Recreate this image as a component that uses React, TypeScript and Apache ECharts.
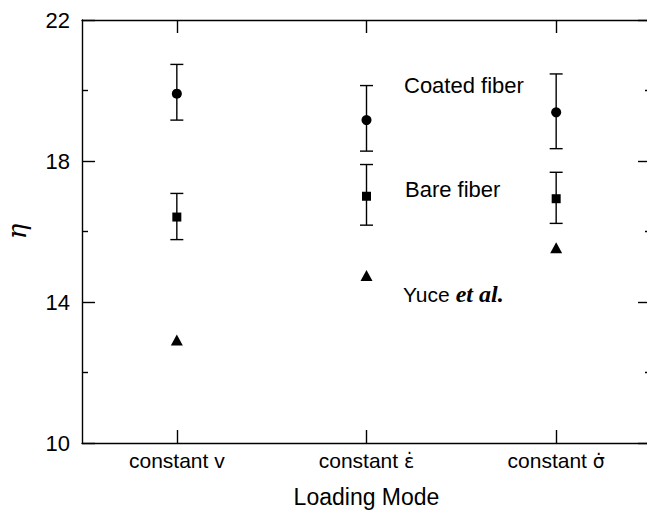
import React, { useEffect, useRef } from "react";
import * as echarts from "echarts";

const categories = ["constant v", "constant \u03b5\u0307", "constant \u03c3\u0307"];
const coatedMean = [19.91, 19.16, 19.38];
const coatedHigh = [20.74, 20.14, 20.47];
const coatedLow = [19.16, 18.28, 18.35];
const bareMean = [16.41, 17.0, 16.93];
const bareHigh = [17.08, 17.9, 17.68];
const bareLow = [15.77, 16.18, 16.23];
const yuceMean = [12.92, 14.75, 15.54];

const FONT = "'Liberation Sans', Arial, sans-serif";

function errorData(low: number[], high: number[]) {
  return categories.map((_, i) => [i, low[i], high[i]]);
}

function renderError(params: any, api: any) {
  const x = api.value(0);
  const lo = api.coord([x, api.value(1)]);
  const hi = api.coord([x, api.value(2)]);
  const hw = 6.5;
  const style = { stroke: "#000", lineWidth: 1.4 };
  return {
    type: "group",
    children: [
      { type: "line", shape: { x1: lo[0], y1: lo[1], x2: hi[0], y2: hi[1] }, style },
      { type: "line", shape: { x1: lo[0] - hw, y1: lo[1], x2: lo[0] + hw, y2: lo[1] }, style },
      { type: "line", shape: { x1: hi[0] - hw, y1: hi[1], x2: hi[0] + hw, y2: hi[1] }, style },
    ],
  };
}

function catLabel(v: string) {
  const base = v.slice(0, v.length - 2);
  const tail = v.slice(v.length - 2);
  if (tail.charCodeAt(1) === 0x307) return `{a|${base}}{g|${tail}}`;
  return `{a|${v}}`;
}

export default function App() {
  const ref = useRef<HTMLDivElement>(null);
  useEffect(() => {
    if (!ref.current) return;
    const chart = echarts.init(ref.current, null, { renderer: "svg" });
    const axisLine = { show: true, lineStyle: { color: "#000", width: 1.4 } };
    const catTick = { show: true, inside: true, length: 13, alignWithLabel: true, lineStyle: { color: "#000", width: 1.4 } };
    const valTick = { show: true, inside: true, length: 13, lineStyle: { color: "#000", width: 1.4 } };
    const minorTick = { show: true, splitNumber: 2, length: 6, lineStyle: { color: "#000", width: 1.4 } };
    chart.setOption({
      animation: false,
      backgroundColor: "#fff",
      grid: { left: 82, top: 20, width: 569, height: 423, outerBoundsMode: "none", containLabel: false },
      xAxis: [
        {
          type: "category",
          data: categories,
          position: "bottom",
          boundaryGap: true,
          axisLine,
          axisTick: catTick,
          axisLabel: {
            color: "#000",
            margin: 7,
            formatter: catLabel,
            rich: {
              a: { color: "#000", fontFamily: FONT, fontSize: 21 },
              g: { color: "#000", fontFamily: "'DejaVu Sans', sans-serif", fontSize: 19 },
            },
          },
          name: "Loading Mode",
          nameLocation: "middle",
          nameGap: 42,
          nameTextStyle: { color: "#000", fontFamily: FONT, fontSize: 23 },
          splitLine: { show: false },
        },
        {
          type: "category",
          data: categories,
          position: "top",
          boundaryGap: true,
          axisLine,
          axisTick: catTick,
          axisLabel: { show: false },
          splitLine: { show: false },
        },
      ],
      yAxis: [
        {
          type: "value",
          min: 10,
          max: 22,
          interval: 4,
          position: "left",
          axisLine,
          axisTick: valTick,
          minorTick,
          splitLine: { show: false },
          axisLabel: { color: "#000", fontFamily: FONT, fontSize: 22, margin: 12 },
          name: "\u03b7",
          nameLocation: "middle",
          nameGap: 52,
          nameRotate: 90,
          nameTextStyle: { color: "#000", fontFamily: "'DejaVu Serif', serif", fontStyle: "italic", fontSize: 26 },
        },
        {
          type: "value",
          min: 10,
          max: 22,
          interval: 4,
          position: "right",
          axisLine,
          axisTick: valTick,
          minorTick,
          splitLine: { show: false },
          axisLabel: { show: false },
        },
      ],
      series: [
        {
          type: "custom",
          renderItem: renderError,
          data: errorData(coatedLow, coatedHigh),
          encode: { x: 0, y: [1, 2] },
          z: 2,
        },
        {
          type: "custom",
          renderItem: renderError,
          data: errorData(bareLow, bareHigh),
          encode: { x: 0, y: [1, 2] },
          z: 2,
        },
        {
          name: "Coated fiber",
          type: "scatter",
          data: coatedMean,
          symbol: "circle",
          symbolSize: 10,
          itemStyle: { color: "#000", opacity: 1 },
          z: 3,
        },
        {
          name: "Bare fiber",
          type: "scatter",
          data: bareMean,
          symbol: "rect",
          symbolSize: 9,
          itemStyle: { color: "#000", opacity: 1 },
          z: 3,
        },
        {
          name: "Yuce et al.",
          type: "scatter",
          data: yuceMean,
          symbol: "triangle",
          symbolSize: [12, 11],
          itemStyle: { color: "#000", opacity: 1 },
          z: 3,
        },
      ],
      graphic: [
        {
          type: "text",
          left: 404,
          top: 74,
          style: { text: "Coated fiber", fill: "#000", font: `22px ${FONT}` },
        },
        {
          type: "text",
          left: 405,
          top: 178,
          style: { text: "Bare fiber", fill: "#000", font: `22px ${FONT}` },
        },
        {
          type: "text",
          left: 403,
          top: 282,
          style: {
            text: "{a|Yuce}{b|et al.}",
            rich: {
              a: { fill: "#000", fontFamily: FONT, fontSize: 21 },
              b: { fill: "#000", fontFamily: "'Liberation Serif', serif", fontStyle: "italic", fontWeight: "bold", fontSize: 24, padding: [0, 0, 0, 6] },
            },
          },
        },
      ],
    });
    return () => chart.dispose();
  }, []);
  return (
    <div
      ref={ref}
      style={{ position: "fixed", left: 0, top: 0, width: 647, height: 516, background: "#fff" }}
    />
  );
}
